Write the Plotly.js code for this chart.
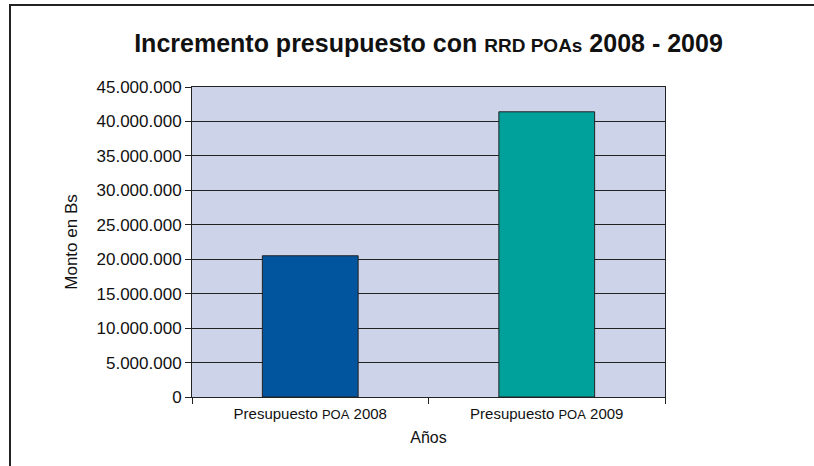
<!DOCTYPE html>
<html>
<head>
<meta charset="utf-8">
<script src="https://cdn.plot.ly/plotly-3.0.1.min.js"></script>
<style>
html,body{margin:0;padding:0;background:#fff;}
#wrap{position:relative;width:814px;height:466px;overflow:hidden;}
#frame{position:absolute;left:9px;top:4px;width:820px;height:480px;border-top:2px solid #222;border-left:2px solid #222;pointer-events:none;}
#chart{position:absolute;left:0;top:0;width:814px;height:466px;}
</style>
</head>
<body>
<div id="wrap">
<div id="chart"></div>
<div id="frame"></div>
</div>
<script>
const categories = ["Presupuesto <span style='font-size:13px'>POA</span> 2008", "Presupuesto <span style='font-size:13px'>POA</span> 2009"];
const values = [20500000, 41400000];
const barColors = ["#00559E", "#00A19A"];
const yTicks = [0, 5000000, 10000000, 15000000, 20000000, 25000000, 30000000, 35000000, 40000000, 45000000];

const FONT = "Liberation Sans, Arial, sans-serif";

const data = [{
  type: "bar",
  x: categories,
  y: values,
  width: 0.405,
  marker: {color: barColors, line: {color: "#222", width: 1}},
  hoverinfo: "none"
}];

const layout = {
  width: 814, height: 466,
  margin: {l: 192, r: 149, t: 87, b: 69, pad: 0},
  paper_bgcolor: "#fff",
  plot_bgcolor: "#CDD3E8",
  separators: ",.",
  showlegend: false,
  font: {family: FONT, color: "#111"},
  title: {
    text: "<b>Incremento presupuesto con <span style='font-size:19px'>RRD POAs</span> 2008 - 2009</b>",
    font: {family: FONT, size: 25, color: "#111"},
    x: 0.5, xanchor: "center", xref: "paper",
    y: 42, yref: "container", yanchor: "middle"
  },
  xaxis: {
    type: "category",
    tickson: "boundaries",
    ticks: "outside", ticklen: 6, tickcolor: "#222", tickwidth: 1,
    ticklabelstandoff: 3,
    showline: true, linecolor: "#222", linewidth: 1, mirror: true,
    showgrid: false,
    tickfont: {family: FONT, size: 15, color: "#111"},
    title: {text: "Años", font: {family: FONT, size: 16, color: "#111"}, standoff: 10}
  },
  yaxis: {
    range: [0, 45000000],
    tickvals: yTicks,
    tickformat: ",d",
    ticks: "outside", ticklen: 6, tickcolor: "#222", tickwidth: 1,
    showline: true, linecolor: "#222", linewidth: 1, mirror: true,
    showgrid: true, gridcolor: "#222", gridwidth: 1,
    zeroline: false,
    tickfont: {family: FONT, size: 17, color: "#111"},
    title: {text: "Monto en Bs", font: {family: FONT, size: 17, color: "#111"}, standoff: 14}
  }
};

Plotly.newPlot("chart", data, layout, {staticPlot: true, displayModeBar: false});
</script>
</body>
</html>
